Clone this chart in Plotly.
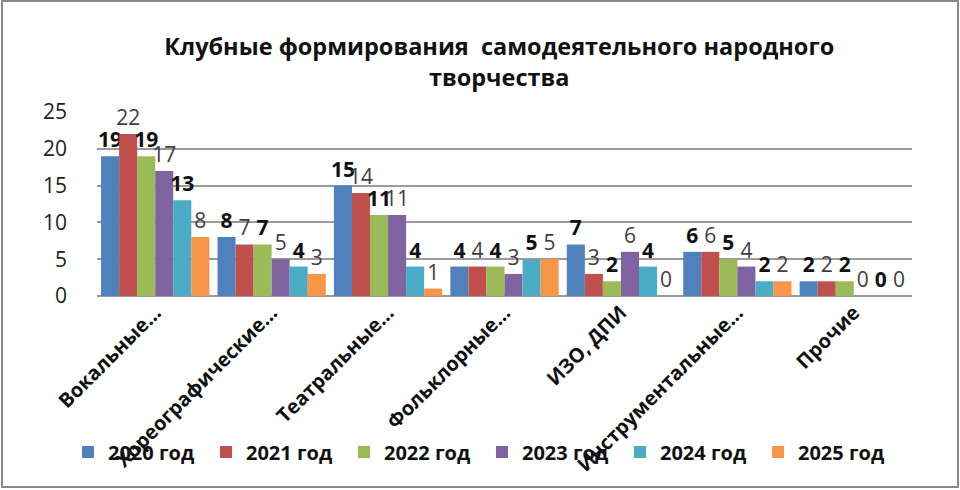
import plotly.graph_objects as go

categories = ["Вокальные…", "Хореографические…", "Театральные…", "Фольклорные…",
              "ИЗО, ДПИ", "Инструментальные…", "Прочие"]
series_names = ["2020 год", "2021 год", "2022 год", "2023 год", "2024 год", "2025 год"]
v2020 = [19, 8, 15, 4, 7, 6, 2]
v2021 = [22, 7, 14, 4, 3, 6, 2]
v2022 = [19, 7, 11, 4, 2, 5, 2]
v2023 = [17, 5, 11, 3, 6, 4, 0]
v2024 = [13, 4, 4, 5, 4, 2, 0]
v2025 = [8, 3, 1, 5, 0, 2, 0]
y_ticks = [0, 5, 10, 15, 20, 25]

series_values = [v2020, v2021, v2022, v2023, v2024, v2025]
colors = ["#4F81BD", "#C0504D", "#9BBB59", "#8064A2", "#4BACC6", "#F79646"]
bold = [True, False, True, False, True, False]

FONT = "Open Sans"
W, H = 960, 490
ML, MR, MT, MB = 97, 48, 112, 194

fig = go.Figure()
for name, vals, col, b in zip(series_names, series_values, colors, bold):
    fig.add_trace(go.Bar(
        x=categories, y=vals, name=name,
        marker=dict(color=col, line=dict(width=0)),
        text=vals, textposition="outside", constraintext="none", cliponaxis=False,
        textfont=dict(family=FONT, size=21, color="#111111" if b else "#404040",
                      weight="bold" if b else "normal"),
    ))

pw = W - ML - MR
ph = H - MT - MB
fig.add_shape(type="rect", xref="paper", yref="paper",
              x0=(2 - ML) / pw, x1=(W - 2 - ML) / pw,
              y0=(H - MB - (H - 3)) / ph, y1=(H - MB - 1) / ph,
              line=dict(color="#8a8a8a", width=2), fillcolor="rgba(0,0,0,0)", layer="below")

fig.update_layout(
    width=W, height=H,
    margin=dict(l=ML, r=MR, t=MT, b=MB, autoexpand=False),
    paper_bgcolor="white", plot_bgcolor="white",
    barmode="group", bargap=0.07, bargroupgap=0,
    title=dict(text="Клубные формирования  самодеятельного народного<br>творчества",
               x=0.52, xanchor="center", xref="container",
               y=1 - 55 / H, yanchor="top", yref="container",
               font=dict(family=FONT, size=23.5, color="#111111", weight="bold")),
    font=dict(family=FONT, color="#222222"),
    xaxis=dict(tickangle=-45, tickfont=dict(family=FONT, size=20, color="#111111", weight="bold"),
               showline=False, showgrid=False, ticks=""),
    yaxis=dict(range=[0, 25], tickvals=y_ticks, showgrid=True, gridcolor="#9a9a9a", gridwidth=1.5,
               zeroline=True, zerolinecolor="#9a9a9a", zerolinewidth=1.5,
               ticks="", ticklabelstandoff=29,
               tickfont=dict(family=FONT, size=21, color="#222222")),
    legend=dict(orientation="h", xref="paper", yref="paper",
                x=(68 - ML) / pw, xanchor="left", y=(H - MB - 452) / ph, yanchor="middle",
                entrywidth=93, entrywidthmode="pixels",
                font=dict(family=FONT, size=20, color="#111111", weight="bold"),
                bgcolor="rgba(0,0,0,0)"),
)

fig.write_html("out.html", config={"displayModeBar": False},
               post_script="document.body.style.margin='0px';")
